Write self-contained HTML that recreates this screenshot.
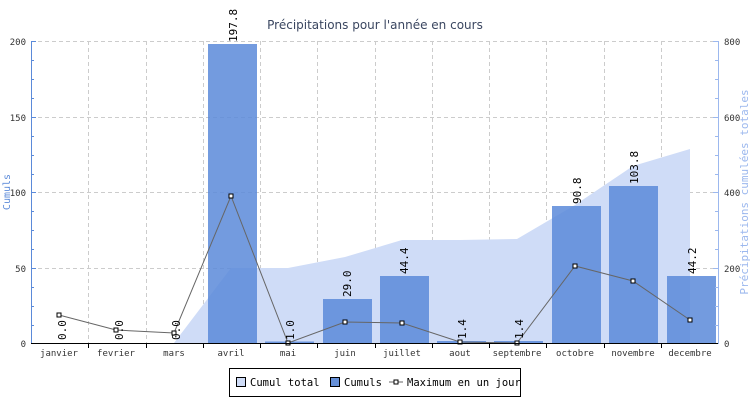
<!DOCTYPE html>
<html><head><meta charset="utf-8"><style>
body{margin:0;background:#fff}
svg text{font-family:"DejaVu Sans Mono","Liberation Mono",monospace}
</style></head><body>
<svg width="750" height="400" viewBox="0 0 750 400" xmlns="http://www.w3.org/2000/svg">
<rect width="750" height="400" fill="#fff"/>
<text x="375" y="29" text-anchor="middle" font-size="12" fill="#3a4660" style="font-family:'DejaVu Sans',sans-serif">Précipitations pour l'année en cours</text>
<g stroke="#ccc" stroke-dasharray="4,3" stroke-width="1">
<line x1="31" x2="718" y1="41.5" y2="41.5"/><line x1="31" x2="718" y1="117.5" y2="117.5"/><line x1="31" x2="718" y1="192.5" y2="192.5"/><line x1="31" x2="718" y1="268.5" y2="268.5"/>
<line x1="88.5" x2="88.5" y1="41" y2="343"/><line x1="146.5" x2="146.5" y1="41" y2="343"/><line x1="203.5" x2="203.5" y1="41" y2="343"/><line x1="260.5" x2="260.5" y1="41" y2="343"/><line x1="317.5" x2="317.5" y1="41" y2="343"/><line x1="375.5" x2="375.5" y1="41" y2="343"/><line x1="432.5" x2="432.5" y1="41" y2="343"/><line x1="489.5" x2="489.5" y1="41" y2="343"/><line x1="546.5" x2="546.5" y1="41" y2="343"/><line x1="604.5" x2="604.5" y1="41" y2="343"/><line x1="661.5" x2="661.5" y1="41" y2="343"/>
</g>
<polygon fill="#cfdcf7" points="174,343 231,268 288,268 345,257 402,240 460,240 517,239 575,205 633,166 690,149 690,343"/>
<g fill="#5b8ad9" fill-opacity="0.85">
<rect x="208" y="44" width="49" height="299"/>
<rect x="265" y="341.5" width="49" height="1.5"/>
<rect x="323" y="299" width="49" height="44"/>
<rect x="380" y="276" width="49" height="67"/>
<rect x="437" y="341" width="49" height="2"/>
<rect x="494" y="341" width="49" height="2"/>
<rect x="552" y="206" width="49" height="137"/>
<rect x="609" y="186" width="49" height="157"/>
<rect x="667" y="276" width="49" height="67"/>
</g>
<polyline fill="none" stroke="#666" stroke-width="1" points="59,315 116,330 174,333 231,196 288,343 345,322 402,323 460,342 517,343 575,266 633,281 690,320"/>
<g fill="#fff" stroke="#000" stroke-width="1">
<rect x="57" y="313" width="4" height="4"/><rect x="114" y="328" width="4" height="4"/><rect x="172" y="331" width="4" height="4"/><rect x="229" y="194" width="4" height="4"/><rect x="286" y="341" width="4" height="4"/><rect x="343" y="320" width="4" height="4"/><rect x="400" y="321" width="4" height="4"/><rect x="458" y="340" width="4" height="4"/><rect x="515" y="341" width="4" height="4"/><rect x="573" y="264" width="4" height="4"/><rect x="631" y="279" width="4" height="4"/><rect x="688" y="318" width="4" height="4"/>
</g>
<g font-size="11" fill="#000">
<text transform="translate(66,340) rotate(-90)">0.0</text>
<text transform="translate(123,340) rotate(-90)">0.0</text>
<text transform="translate(180,340) rotate(-90)">0.0</text>
<text transform="translate(237,42) rotate(-90)">197.8</text>
<text transform="translate(294,340) rotate(-90)">1.0</text>
<text transform="translate(351,297) rotate(-90)">29.0</text>
<text transform="translate(408,274) rotate(-90)">44.4</text>
<text transform="translate(466,339) rotate(-90)">1.4</text>
<text transform="translate(523,339) rotate(-90)">1.4</text>
<text transform="translate(581,204) rotate(-90)">90.8</text>
<text transform="translate(638,184) rotate(-90)">103.8</text>
<text transform="translate(696,274) rotate(-90)">44.2</text>
</g>
<line x1="31.5" x2="31.5" y1="41" y2="344" stroke="#5b8ad9"/>
<line x1="718.5" x2="718.5" y1="41" y2="344" stroke="#9cb8ee"/>
<line x1="31" x2="718" y1="343.5" y2="343.5" stroke="#000"/>
<g stroke="#5b8ad9">
<line x1="31" x2="36" y1="41.5" y2="41.5"/><line x1="31" x2="36" y1="117.5" y2="117.5"/><line x1="31" x2="36" y1="192.5" y2="192.5"/><line x1="31" x2="36" y1="268.5" y2="268.5"/>
<line x1="31" x2="34" y1="60.5" y2="60.5"/><line x1="31" x2="34" y1="79.5" y2="79.5"/><line x1="31" x2="34" y1="98.5" y2="98.5"/><line x1="31" x2="34" y1="136.5" y2="136.5"/><line x1="31" x2="34" y1="155.5" y2="155.5"/><line x1="31" x2="34" y1="174.5" y2="174.5"/><line x1="31" x2="34" y1="211.5" y2="211.5"/><line x1="31" x2="34" y1="230.5" y2="230.5"/><line x1="31" x2="34" y1="249.5" y2="249.5"/><line x1="31" x2="34" y1="287.5" y2="287.5"/><line x1="31" x2="34" y1="306.5" y2="306.5"/><line x1="31" x2="34" y1="325.5" y2="325.5"/>
</g>
<g stroke="#9cb8ee">
<line x1="713" x2="718" y1="41.5" y2="41.5"/><line x1="713" x2="718" y1="117.5" y2="117.5"/><line x1="713" x2="718" y1="192.5" y2="192.5"/><line x1="713" x2="718" y1="268.5" y2="268.5"/>
<line x1="715" x2="718" y1="60.5" y2="60.5"/><line x1="715" x2="718" y1="79.5" y2="79.5"/><line x1="715" x2="718" y1="98.5" y2="98.5"/><line x1="715" x2="718" y1="136.5" y2="136.5"/><line x1="715" x2="718" y1="155.5" y2="155.5"/><line x1="715" x2="718" y1="174.5" y2="174.5"/><line x1="715" x2="718" y1="211.5" y2="211.5"/><line x1="715" x2="718" y1="230.5" y2="230.5"/><line x1="715" x2="718" y1="249.5" y2="249.5"/><line x1="715" x2="718" y1="287.5" y2="287.5"/><line x1="715" x2="718" y1="306.5" y2="306.5"/><line x1="715" x2="718" y1="325.5" y2="325.5"/>
</g>
<g stroke="#000"><line x1="88.5" x2="88.5" y1="343" y2="348"/><line x1="146.5" x2="146.5" y1="343" y2="348"/><line x1="203.5" x2="203.5" y1="343" y2="348"/><line x1="260.5" x2="260.5" y1="343" y2="348"/><line x1="317.5" x2="317.5" y1="343" y2="348"/><line x1="375.5" x2="375.5" y1="343" y2="348"/><line x1="432.5" x2="432.5" y1="343" y2="348"/><line x1="489.5" x2="489.5" y1="343" y2="348"/><line x1="546.5" x2="546.5" y1="343" y2="348"/><line x1="604.5" x2="604.5" y1="343" y2="348"/><line x1="661.5" x2="661.5" y1="343" y2="348"/></g>
<g font-size="9" fill="#333" text-anchor="end" style="font-family:'DejaVu Sans',sans-serif">
<text x="26" y="45">200</text><text x="26" y="121">150</text><text x="26" y="196">100</text><text x="26" y="272">50</text><text x="26" y="347">0</text>
</g>
<g font-size="9" fill="#333" style="font-family:'DejaVu Sans',sans-serif">
<text x="724" y="45">800</text><text x="724" y="121">600</text><text x="724" y="196">400</text><text x="724" y="272">200</text><text x="724" y="347">0</text>
</g>
<g font-size="9" fill="#333" text-anchor="middle" style="font-family:'DejaVu Sans',sans-serif">
<text x="59" y="356">janvier</text><text x="116" y="356">fevrier</text><text x="174" y="356">mars</text><text x="231" y="356">avril</text><text x="288" y="356">mai</text><text x="345" y="356">juin</text><text x="402" y="356">juillet</text><text x="460" y="356">aout</text><text x="517" y="356">septembre</text><text x="575" y="356">octobre</text><text x="633" y="356">novembre</text><text x="690" y="356">decembre</text>
</g>
<text transform="translate(10,192) rotate(-90)" text-anchor="middle" font-size="10" fill="#5b8ad9">Cumuls</text>
<text transform="translate(748,192) rotate(-90)" text-anchor="middle" font-size="11" fill="#9cb8ee">Précipitations cumulées totales</text>
<rect x="229.5" y="368.5" width="291" height="28" fill="#fff" stroke="#000"/>
<rect x="236.5" y="377.5" width="9" height="9" fill="#cfdcf7" stroke="#000"/>
<text x="250" y="386" font-size="10.5">Cumul total</text>
<rect x="330.5" y="377.5" width="9" height="9" fill="#6690d8" stroke="#000"/>
<text x="344" y="386" font-size="10.5">Cumuls</text>
<line x1="389" x2="403" y1="382" y2="382" stroke="#666"/>
<rect x="394" y="380" width="4" height="4" fill="#fff" stroke="#000"/>
<text x="407" y="386" font-size="10.5">Maximum en un jour</text>
</svg>
</body></html>
